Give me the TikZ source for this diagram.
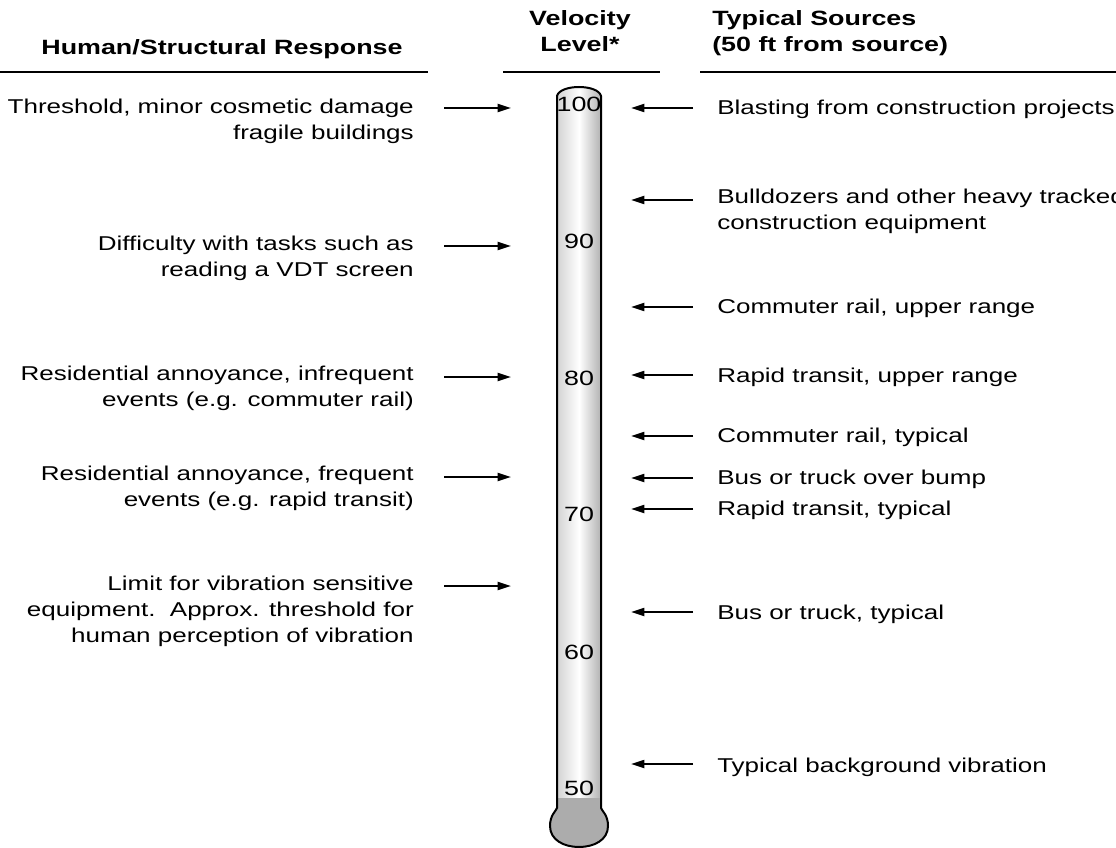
\documentclass[tikz,border=0pt]{standalone}
\usepackage{fontspec}
\setmainfont{Liberation Sans}[FakeStretch=1.3]
\usetikzlibrary{arrows.meta}
\begin{document}
\begin{tikzpicture}[x=0.75pt,y=-0.75pt,
  txt/.style={inner sep=0pt,font=\fontsize{15pt}{19.5pt}\selectfont,execute at begin node=\strut},
  lefttxt/.style={txt,anchor=north east,align=right},
  righttxt/.style={txt,anchor=north west,align=left},
  headtxt/.style={txt,font=\fontsize{15.5pt}{19.5pt}\selectfont\bfseries},
  numtxt/.style={inner sep=0pt,font=\fontsize{15.5pt}{19.5pt}\selectfont},
  hline/.style={line width=2pt},
  pointer/.style={line width=1.4pt,-{Triangle[length=10pt,width=6pt]}},
  tubeline/.style={line width=1.5pt}
]
\useasboundingbox (0,0) rectangle (1116,848);
\clip (0,0) rectangle (1116,848);

% headers
\node[headtxt,anchor=north] (hleft) at (222,36.3) {Human/Structural Response};
\node[headtxt,anchor=north,align=center] (hmid) at (580,10.3) {Velocity\\Level*};
\node[headtxt,anchor=north west,align=left] (hright) at (712,10.3) {Typical Sources\\(50 ft from source)};
\draw[hline] (0,72) -- (428,72);
\draw[hline] (503,72) -- (660,72);
\draw[hline] (700,72) -- (1116,72);

% tube
\path[left color=gray!45,right color=gray!80,middle color=white]
  (557,808) -- (557,96) .. controls (560,84) and (598,84) .. (601,96) -- (601,808)
  .. controls (602,811) and (608,815) .. (608,826)
  .. controls (608,840) and (594,847) .. (579,847)
  .. controls (564,847) and (550,840) .. (550,826)
  .. controls (550,815) and (556,811) .. (557,808) -- cycle;
\fill[gray!65] (557,798) -- (601,798) -- (601,808)
  .. controls (602,811) and (608,815) .. (608,826)
  .. controls (608,840) and (594,847) .. (579,847)
  .. controls (564,847) and (550,840) .. (550,826)
  .. controls (550,815) and (556,811) .. (557,808) -- cycle;
\draw[tubeline]
  (557,808) -- (557,96) .. controls (560,84) and (598,84) .. (601,96) -- (601,808)
  .. controls (602,811) and (608,815) .. (608,826)
  .. controls (608,840) and (594,847) .. (579,847)
  .. controls (564,847) and (550,840) .. (550,826)
  .. controls (550,815) and (556,811) .. (557,808) -- cycle;

% numbers
\node[numtxt] (n100) at (579,104) {100};
\node[numtxt] (n90) at (579,241) {90};
\node[numtxt] (n80) at (579,378) {80};
\node[numtxt] (n70) at (579,514) {70};
\node[numtxt] (n60) at (579,652) {60};
\node[numtxt] (n50) at (579,788) {50};

% left texts
\node[lefttxt] (l1) at (414,98.3) {Threshold, minor cosmetic damage\\fragile buildings};
\node[lefttxt] (l2) at (414,235.3) {Difficulty with tasks such as\\reading a VDT screen};
\node[lefttxt] (l3) at (414,365.3) {Residential annoyance, infrequent\\events (e.g. commuter rail)};
\node[lefttxt] (l4) at (414,465.3) {Residential annoyance, frequent\\events (e.g. rapid transit)};
\node[lefttxt] (l5) at (414,575.3) {Limit for vibration sensitive\\equipment.\ \ Approx. threshold for\\human perception of vibration};

% right texts
\node[righttxt] (r1) at (717,96.3) {Blasting from construction projects};
\node[righttxt] (r2) at (717,188.3) {Bulldozers and other heavy tracked\\construction equipment};
\node[righttxt] (r3) at (717,295.3) {Commuter rail, upper range};
\node[righttxt] (r4) at (717,364.3) {Rapid transit, upper range};
\node[righttxt] (r5) at (717,424.3) {Commuter rail, typical};
\node[righttxt] (r6) at (717,466.3) {Bus or truck over bump};
\node[righttxt] (r7) at (717,497.3) {Rapid transit, typical};
\node[righttxt] (r8) at (717,601.3) {Bus or truck, typical};
\node[righttxt] (r9) at (717,754.3) {Typical background vibration};

% left arrows
\foreach \i/\y in {1/108,2/246,3/377,4/477,5/586}{
  \coordinate (la\i) at (444,\y);
  \coordinate (lb\i) at (511,\y);
  \draw[pointer] (la\i) -- (lb\i);
}
% right arrows
\foreach \i/\y in {1/108,2/200,3/307,4/375,5/436,6/478,7/509,8/612,9/764}{
  \coordinate (ra\i) at (693,\y);
  \coordinate (rb\i) at (631,\y);
  \draw[pointer] (ra\i) -- (rb\i);
}
\end{tikzpicture}
\end{document}
